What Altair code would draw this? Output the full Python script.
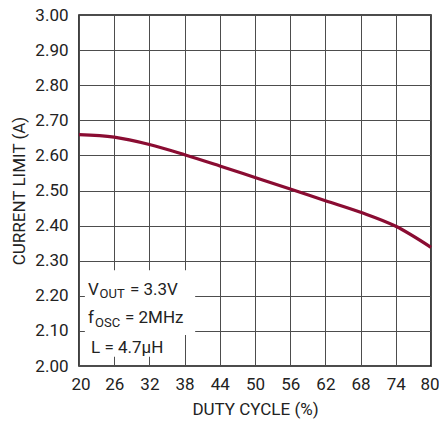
import altair as alt
import pandas as pd

duty = [20, 26, 32, 38, 44, 50, 56, 62, 68, 74, 80]
current = [2.659, 2.652, 2.631, 2.602, 2.570, 2.537, 2.504, 2.471, 2.438, 2.398, 2.338]

x_ticks = [20, 26, 32, 38, 44, 50, 56, 62, 68, 74, 80]
y_ticks = [2.0, 2.1, 2.2, 2.3, 2.4, 2.5, 2.6, 2.7, 2.8, 2.9, 3.0]

note_text = ["V", "OUT", "= 3.3V", "f", "OSC", "= 2MHz", "L = 4.7µH"]
note_x = [21.53, 23.50, 28.69, 21.53, 22.73, 27.84, 22.05]
note_y = [2.2023, 2.1937, 2.2023, 2.1225, 2.111, 2.1225, 2.037]
note_size = [17, 13, 17, 17, 13, 17, 17]

box_x = [21.0, 21.0]
box_x2 = [39.8, 36.4]
box_y = [2.088, 2.026]
box_y2 = [2.273, 2.088]

FONT = "Roboto, Liberation Sans, sans-serif"

df = pd.DataFrame({"duty": duty, "current": current})
notes = pd.DataFrame({"x": note_x, "y": note_y, "t": note_text, "s": note_size})
boxes = pd.DataFrame({"x": box_x, "x2": box_x2, "y": box_y, "y2": box_y2})

xscale = alt.Scale(domain=[20, 80], nice=False, zero=False)
yscale = alt.Scale(domain=[2.0, 3.0], nice=False, zero=False)

xaxis = alt.Axis(values=x_ticks, format="d", title="DUTY CYCLE (%)", grid=True,
                 gridColor="#4d4d4d", gridWidth=1, ticks=False, domain=False,
                 labelFont=FONT, labelFontSize=17, labelColor="#222222",
                 labelPadding=10, labelFlush=True, labelFlushOffset=8,
                 labelOverlap=False,
                 titleFont=FONT, titleFontSize=17, titleFontWeight="normal",
                 titleColor="#222222", titlePadding=9)
yaxis = alt.Axis(values=y_ticks, format=".2f", title="CURRENT LIMIT (A)", grid=True,
                 gridColor="#4d4d4d", gridWidth=1, ticks=False, domain=False,
                 labelFont=FONT, labelFontSize=17, labelColor="#222222",
                 labelPadding=11, labelFlush=False, labelOverlap=False,
                 titleFont=FONT, titleFontSize=17, titleFontWeight="normal",
                 titleColor="#222222", titlePadding=6)

line = alt.Chart(df).mark_line(color="#8a0c32", strokeWidth=3.2, interpolate="monotone").encode(
    x=alt.X("duty:Q", scale=xscale, axis=xaxis),
    y=alt.Y("current:Q", scale=yscale, axis=yaxis),
)

rects = alt.Chart(boxes).mark_rect(color="white").encode(
    x=alt.X("x:Q", scale=xscale, axis=xaxis), x2="x2:Q",
    y=alt.Y("y:Q", scale=yscale, axis=yaxis), y2="y2:Q",
)

texts = alt.Chart(notes).mark_text(font=FONT, align="left", baseline="alphabetic",
                                   color="#222222").encode(
    x=alt.X("x:Q", scale=xscale, axis=xaxis),
    y=alt.Y("y:Q", scale=yscale, axis=yaxis),
    text="t:N",
    size=alt.Size("s:Q", scale=None, legend=None),
)

chart = alt.layer(line, rects, texts).properties(
    width=352, height=351,
    autosize=alt.AutoSizeParams(type="none"),
    padding={"left": 71, "top": 7, "right": 8, "bottom": 60},
).configure(background="white").configure_view(stroke="#111111", strokeWidth=1.6)

chart.save("out.html", embed_options={"renderer": "svg", "actions": False})
